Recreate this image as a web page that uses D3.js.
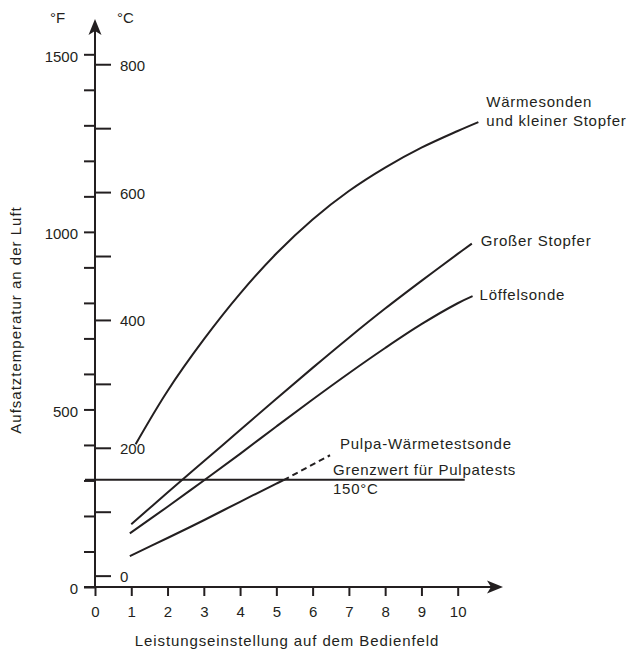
<!DOCTYPE html>
<html>
<head>
<meta charset="utf-8">
<script src="https://d3js.org/d3.v7.min.js"></script>
<style>
  body { margin: 0; background: #fff; }
  svg text { font-family: "Liberation Sans", Arial, sans-serif; fill: #231f20; }
</style>
</head>
<body>
<div id="container"></div>
<script>
// Werte: Leistungseinstellung -> Temperatur in °F
var waermesondenStufe = [1.12, 2, 3, 4, 5, 6, 7, 8, 9, 10, 10.57];
var waermesondenTemp  = [402, 552, 697, 826, 939, 1035, 1115, 1181, 1237, 1284, 1309];
var grosserStufe = [1, 2, 3, 4, 5, 6, 7, 8, 9, 10, 10.39];
var grosserTemp  = [177, 266, 354, 442, 530, 617, 702, 784, 862, 938, 967];
var loeffelStufe = [0.96, 2, 3, 4, 5, 6, 7, 8, 9, 10, 10.41];
var loeffelTemp  = [151, 226, 300, 375, 452, 528, 602, 673, 740, 799, 819];
var pulpaStufe = [0.96, 2, 3, 4, 5, 5.2];
var pulpaTemp  = [87, 138, 188, 240, 291, 301];
var pulpaStrichStufe = [5.2, 6.48];
var pulpaStrichTemp  = [301, 371];
var grenzwertC = 150;

// Achsen
var xTicks = [0, 1, 2, 3, 4, 5, 6, 7, 8, 9, 10];
var fTicks = [0, 100, 200, 300, 400, 500, 600, 700, 800, 900, 1000, 1100, 1200, 1300, 1400, 1500];
var fLabels = [0, 500, 1000, 1500];
var cTicks = [0, 100, 200, 300, 400, 500, 600, 700, 800];
var cLabels = [0, 200, 400, 600, 800];

var ink = "#231f20";

function zip(a, b) {
  return a.map(function(v, i) { return [v, b[i]] });
}

var svg = d3.select("#container")
            .append("svg")
            .attr("width", 630)
            .attr("height", 650);

var x = d3.scaleLinear().domain([0, 10]).range([95, 457.7]);
var yF = d3.scaleLinear().domain([0, 1500]).range([587, 54.3]);
// °C Skala aus der Umrechnung
var yC = d3.scaleLinear().domain([0, 800]).range([yF(32), yF(800 * 1.8 + 32)]);

var x0 = x(0), y0 = yF(0);
var yTip = 19, xTip = 503;

// °F Achse (links)
var fAxis = d3.axisLeft(yF)
              .tickValues(fTicks)
              .tickSize(11)
              .tickPadding(6)
              .tickFormat(function(d) { return fLabels.indexOf(d) >= 0 ? d : "" });
var gF = svg.append("g").attr("transform", "translate(" + x0 + ",0)").call(fAxis);

// °C Achse (rechts)
var cAxis = d3.axisRight(yC)
              .tickValues(cTicks)
              .tickSize(16)
              .tickPadding(9)
              .tickFormat(function(d) { return cLabels.indexOf(d) >= 0 ? d : "" });
var gC = svg.append("g").attr("transform", "translate(" + x0 + ",0)").call(cAxis);

// x Achse
var xAxis = d3.axisBottom(x)
              .tickValues(xTicks)
              .tickSize(9)
              .tickPadding(10);
var gX = svg.append("g").attr("transform", "translate(0," + y0 + ")").call(xAxis);

[gF, gC, gX].forEach(function(g) {
  g.select(".domain").remove();
  g.selectAll(".tick line").attr("stroke", ink).attr("stroke-width", 2);
  g.selectAll(".tick text")
   .attr("fill", ink)
   .style("font-size", "15px")
   .style("font-family", '"Liberation Sans", Arial, sans-serif');
});
gF.selectAll(".tick text").attr("dy", "0.45em");
gC.selectAll(".tick text").attr("dy", "0.4em");

// Achsenlinien mit Pfeil
svg.append("line")
   .attr("x1", x0).attr("y1", y0)
   .attr("x2", x0).attr("y2", yTip + 10)
   .attr("stroke", ink).attr("stroke-width", 2);
svg.append("line")
   .attr("x1", x0 - 11).attr("y1", y0)
   .attr("x2", xTip - 10).attr("y2", y0)
   .attr("stroke", ink).attr("stroke-width", 2);

svg.append("path")
   .attr("d", "M" + x0 + "," + yTip + " L" + (x0 + 6.5) + "," + (yTip + 16) +
              " L" + x0 + "," + (yTip + 12) + " L" + (x0 - 6.5) + "," + (yTip + 16) + "Z")
   .attr("fill", ink);
svg.append("path")
   .attr("d", "M" + xTip + "," + y0 + " L" + (xTip - 16) + "," + (y0 - 6.5) +
              " L" + (xTip - 12) + "," + y0 + " L" + (xTip - 16) + "," + (y0 + 6.5) + "Z")
   .attr("fill", ink);

// Einheiten
svg.append("text").attr("x", 50).attr("y", 23).style("font-size", "15px").text("°F");
svg.append("text").attr("x", 117).attr("y", 23).style("font-size", "15px").text("°C");

// Grenzwert Linie
var yG = yC(grenzwertC);
svg.append("line")
   .attr("x1", x0 - 10).attr("y1", yG)
   .attr("x2", x(10) + 7).attr("y2", yG)
   .attr("stroke", ink).attr("stroke-width", 2);

// Kurven
var linePath = d3.line()
                 .x(function(d) { return x(d[0]) })
                 .y(function(d) { return yF(d[1]) })
                 .curve(d3.curveCatmullRom.alpha(0.5));

var series = [
  zip(waermesondenStufe, waermesondenTemp),
  zip(grosserStufe, grosserTemp),
  zip(loeffelStufe, loeffelTemp),
  zip(pulpaStufe, pulpaTemp)
];

svg.append("g").selectAll("path")
   .data(series)
   .enter()
   .append("path")
   .attr("d", function(d) { return linePath(d) })
   .attr("fill", "none")
   .attr("stroke", ink)
   .attr("stroke-width", 2);

var dashed = zip(pulpaStrichStufe, pulpaStrichTemp);
svg.append("path")
   .attr("d", linePath(dashed))
   .attr("fill", "none")
   .attr("stroke", ink)
   .attr("stroke-width", 2)
   .attr("stroke-dasharray", "6,4");

// Beschriftungen
function label(px, py, txt, ls) {
  svg.append("text")
     .attr("x", px).attr("y", py)
     .style("font-size", "15px")
     .style("letter-spacing", (ls || 0.75) + "px")
     .text(txt);
}
function endOf(s) { var p = s[s.length - 1]; return [x(p[0]), yF(p[1])] }

var e1 = endOf(series[0]);
label(e1[0] + 8, e1[1] - 15, "Wärmesonden");
label(e1[0] + 8, e1[1] + 4, "und kleiner Stopfer");
var e2 = endOf(series[1]);
label(e2[0] + 9, e2[1] + 2, "Großer Stopfer");
var e3 = endOf(series[2]);
label(e3[0] + 7, e3[1] + 4, "Löffelsonde");
var e4 = endOf(dashed);
label(e4[0] + 10, e4[1] - 6, "Pulpa-Wärmetestsonde");

label(333, yG - 5, "Grenzwert für Pulpatests");
label(333, yG + 14, "150°C");

// Achsentitel
svg.append("text")
   .attr("x", 287).attr("y", 646)
   .attr("text-anchor", "middle")
   .style("font-size", "15px")
   .style("letter-spacing", "0.9px")
   .text("Leistungseinstellung auf dem Bedienfeld");

svg.append("text")
   .attr("transform", "translate(21,320) rotate(-90)")
   .attr("text-anchor", "middle")
   .style("font-size", "15px")
   .style("letter-spacing", "1px")
   .text("Aufsatztemperatur an der Luft");
</script>
</body>
</html>
